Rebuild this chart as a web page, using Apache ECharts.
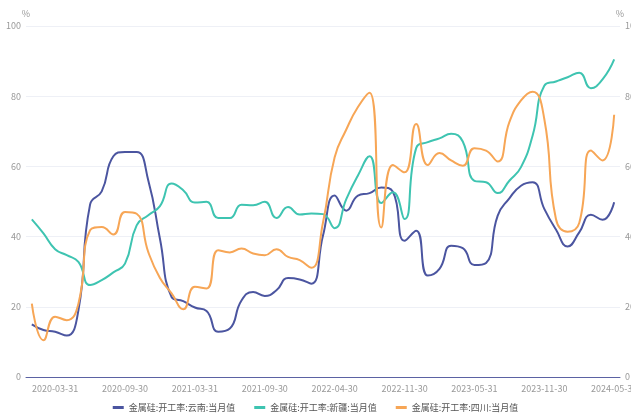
<!DOCTYPE html>
<html>
<head>
<meta charset="utf-8">
<script src="https://cdn.jsdelivr.net/npm/echarts@6/dist/echarts.min.js"></script>
<style>
  html, body { margin: 0; padding: 0; background: #fff; }
  #chart { width: 631px; height: 415px; }
</style>
</head>
<body>
<div id="chart"></div>
<script>
const dates = [
  '2020-01-31', '2020-02-29', '2020-03-31', '2020-04-30', '2020-05-31', '2020-06-30',
  '2020-07-31', '2020-08-31', '2020-09-30', '2020-10-31', '2020-11-30', '2020-12-31',
  '2021-01-31', '2021-02-28', '2021-03-31', '2021-04-30', '2021-05-31', '2021-06-30',
  '2021-07-31', '2021-08-31', '2021-09-30', '2021-10-31', '2021-11-30', '2021-12-31',
  '2022-02-28', '2022-03-31', '2022-04-30', '2022-05-31', '2022-06-30', '2022-08-31',
  '2022-09-30', '2022-10-31', '2022-11-30', '2022-12-31',
  '2023-01-31', '2023-02-28', '2023-03-31', '2023-04-30', '2023-05-31', '2023-06-30',
  '2023-07-31', '2023-08-31', '2023-09-30', '2023-10-31', '2023-11-30', '2023-12-31',
  '2024-01-31', '2024-02-29', '2024-03-31', '2024-04-30', '2024-05-31'
]

// 金属硅:开工率:云南:当月值
const yunnan = [
  15.0, 13.4, 12.9, 11.8, 19.0, 49.1, 52.9, 62.9, 64.1, 64.1, 56.0, 39.4,
  22.8, 21.6, 19.8, 18.8, 12.9, 13.8, 21.8, 24.2, 23.1, 24.7, 28.2, 27.8,
  26.6, 40.3, 51.7, 47.4, 51.7, 52.4, 54.0, 52.8, 38.8, 41.7,
  28.9, 30.8, 37.4, 36.7, 31.9, 32.5, 46.0, 50.9, 54.5, 55.5, 47.9, 42.0,
  37.2, 41.2, 46.2, 44.8, 49.8
]
// 金属硅:开工率:新疆:当月值
const xinjiang = [
  44.9, 40.9, 36.4, 34.7, 32.8, 26.2, 27.6, 29.8, 32.3, 43.2, 46.1, 48.7,
  55.1, 53.2, 49.7, 49.9, 45.3, 45.3, 49.1, 48.9, 49.9, 45.3, 48.4, 46.3,
  46.6, 46.4, 42.4, 50.7, 57.4, 62.9, 49.6, 52.6, 45.0, 65.2,
  66.9, 68.0, 69.3, 67.1, 55.9, 55.5, 52.4, 55.9, 59.8, 68.8, 83.0, 84.2,
  85.4, 86.7, 82.3, 84.8, 90.5
]
// 金属硅:开工率:四川:当月值
const sichuan = [
  20.9, 10.5, 17.2, 16.2, 20.9, 41.8, 42.7, 40.6, 47.0, 46.5, 35.6, 28.2,
  23.8, 19.3, 25.7, 25.2, 36.1, 35.5, 36.6, 35.2, 34.7, 36.4, 34.2, 33.3,
  31.1, 44.0, 62.6, 70.5, 76.9, 81.0, 42.6, 60.4, 58.3, 72.1,
  60.4, 63.8, 61.7, 60.2, 65.2, 64.5, 61.4, 72.6, 78.8, 81.3, 73.5, 45.0,
  41.4, 43.9, 64.5, 61.7, 74.7
]

const seriesNames = ['金属硅:开工率:云南:当月值', '金属硅:开工率:新疆:当月值', '金属硅:开工率:四川:当月值']
const colors = ['#4b55a0', '#3ec4b1', '#f7a656']

const font = '"Noto Sans CJK SC", "Liberation Sans", sans-serif'
const chart = echarts.init(document.getElementById('chart'))

const yAxisBase = {
  type: 'value',
  min: 0,
  max: 100,
  interval: 20,
  name: '%',
  nameGap: 8,
  nameTextStyle: { color: '#999', fontSize: 9, fontFamily: font },
  axisLine: { show: false },
  axisTick: { show: false },
  axisLabel: { color: '#999', fontSize: 9, fontFamily: font, margin: 5 }
}

chart.setOption({
  animation: false,
  color: colors,
  grid: {
    left: 26,
    right: 11,
    top: 26,
    bottom: 38,
    outerBoundsMode: 'none',
    containLabel: false
  },
  legend: {
    bottom: -2,
    left: 'center',
    icon: 'rect',
    itemWidth: 11,
    itemHeight: 3,
    itemGap: 19,
    textStyle: { color: '#555', fontSize: 9, fontFamily: font },
    data: seriesNames
  },
  xAxis: {
    type: 'category',
    data: dates,
    boundaryGap: true,
    axisLine: { lineStyle: { color: '#5b62a3', width: 1 } },
    axisTick: { show: false },
    axisLabel: {
      color: '#999',
      fontSize: 9,
      fontFamily: font,
      margin: 7,
      interval: (index) => (index - 2) % 6 === 0
    }
  },
  yAxis: [
    Object.assign({}, yAxisBase, {
      position: 'left',
      splitLine: { lineStyle: { color: '#eef0f6' } }
    }),
    Object.assign({}, yAxisBase, {
      position: 'right',
      splitLine: { show: false }
    })
  ],
  series: [
    { name: seriesNames[0], type: 'line', data: yunnan },
    { name: seriesNames[1], type: 'line', data: xinjiang },
    { name: seriesNames[2], type: 'line', data: sichuan }
  ].map(s => Object.assign(s, {
    smooth: true,
    showSymbol: false,
    yAxisIndex: 0,
    lineStyle: { width: 2 }
  }))
})
</script>
</body>
</html>
